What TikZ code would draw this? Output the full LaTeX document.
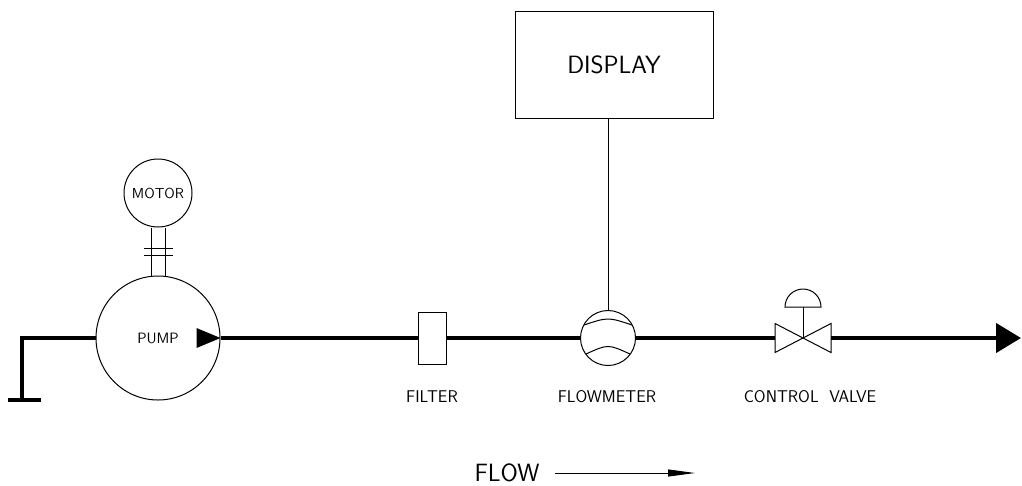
\documentclass[tikz,border=0pt]{standalone}
\usepackage{tikz}
\usetikzlibrary{arrows.meta,calc}

\tikzset{
  pipe/.style={line width=4.5pt},
  thin line/.style={line width=1pt},
  tag/.style={font=\sffamily\fontsize{17}{17}\selectfont},
  bigtag/.style={font=\sffamily\fontsize{25}{25}\selectfont},
}

\begin{document}
\begin{tikzpicture}[x=1pt,y=-1pt,thin line]
    \useasboundingbox (0,0) rectangle (1022,485);
    % pump and motor
    \node[circle,draw,minimum size=124pt,inner sep=0pt,font=\sffamily\fontsize{15}{15}\selectfont] (pump) at (158,338) {PUMP};
    \node[circle,draw,minimum size=68pt,inner sep=0pt,font=\sffamily\fontsize{14.5}{14.5}\selectfont] (motor) at (158,193) {MOTOR};
    \foreach \dx in {-7,7} {
     \draw ($(motor.south)+(\dx,0)$) -- ($(pump.north)+(\dx,0)$);
    }
    \foreach \y in {248,255} {
     \draw (144,\y) -- (173,\y);
    }
    \fill ($(pump.east)+(-24,-10)$) -- (pump.east) -- ($(pump.east)+(-24,10)$) -- cycle;
    % suction side
    \coordinate (ground) at (22,400);
    \draw[pipe] ($(ground)+(-14,0)$) -- ($(ground)+(19,0)$);
    \draw[pipe] (ground) |- (pump.west);
    % filter
    \node[rectangle,draw,minimum width=28pt,minimum height=52pt,inner sep=0pt] (filter) at (432,338) {};
    \node[tag] (filterlabel) at (432,397) {FILTER};
    % flowmeter
    \node[circle,draw,minimum size=55pt,inner sep=0pt] (meter) at (608,338) {};
    \draw ($(meter)+(-24,-13)$) .. controls ($(meter)+(0,-21)$) .. ($(meter)+(24,-13)$);
    \draw ($(meter)+(-22,16)$) .. controls ($(meter)+(0,6)$) .. ($(meter)+(22,16)$);
    \node[tag] (meterlabel) at (607,397) {FLOWMETER};
    % display
    \node[rectangle,draw,minimum width=198pt,minimum height=107pt,inner sep=0pt,bigtag] (display) at (614,64.5) {DISPLAY};
    \draw (meter.north) -- (meter.north |- display.south);
    % control valve
    \coordinate (valve) at (803,338);
    \coordinate (valvein) at (775,338);
    \coordinate (valveout) at (831,338);
    \draw (valve) -- ($(valve)+(-28,-14.5)$) -- ($(valve)+(-28,14.5)$) -- cycle;
    \draw (valve) -- ($(valve)+(28,-14.5)$) -- ($(valve)+(28,14.5)$) -- cycle;
    \coordinate (stemtop) at ($(valve)+(0,-31)$);
    \draw (valve) -- (stemtop);
    \draw ($(stemtop)+(-18,0)$) arc[start angle=180,end angle=360,radius=18] -- cycle;
    \node[tag] (valvelabel) at (810,397) {CONTROL\ \ VALVE};
    % main line
    \coordinate (outlet) at (1021,338);
    \draw[pipe] (pump.east) -- (filter.west);
    \draw[pipe] (filter.east) -- (meter.west);
    \draw[pipe] (meter.east) -- (valvein);
    \draw[pipe,-{Triangle[length=25pt,width=29pt]}] (valveout) -- (outlet);
    % flow direction
    \node[bigtag] (flow) at (507,473) {FLOW};
    \coordinate (flowend) at (695,473);
    \draw[-{Triangle[length=27pt,width=7pt]}] ($(flow.east)+(12,0)$) -- (flowend);
\end{tikzpicture}
\end{document}
